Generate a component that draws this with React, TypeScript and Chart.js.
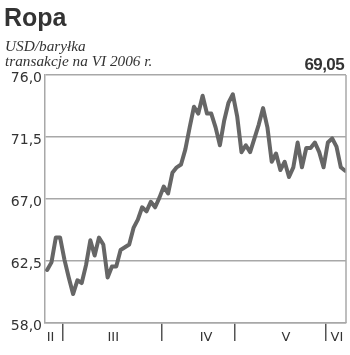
import React, { useEffect, useRef } from "react";
import { Chart, registerables } from "chart.js";

Chart.register(...registerables);

// Daily oil price, USD/barrel (June 2006 contract)
const prices: number[] = [
  61.85, 62.4, 64.2, 64.2, 62.6, 61.3, 60.1, 61.1, 60.9, 62.2, 64.0, 62.9, 64.2, 63.7, 61.3, 62.1, 62.1,
  63.3, 63.5, 63.7, 64.9, 65.5, 66.4, 66.1, 66.8, 66.4, 67.1, 67.9, 67.4, 68.9, 69.3, 69.5,
  70.6, 72.2, 73.7, 73.2, 74.5, 73.2, 73.2, 72.2, 70.9, 72.7, 74.0, 74.6, 73.0, 70.4, 70.9, 70.4,
  71.4, 72.4, 73.6, 72.2, 69.7, 70.3, 69.1, 69.7, 68.6, 69.3, 71.1, 69.3, 70.7, 70.7, 71.1, 70.4,
  69.3, 71.1, 71.4, 70.8, 69.3, 69.05,
];

// Month boundaries (in trading-day index units) and month labels
const monthBoundaries: number[] = [3.5, 26.5, 43.5, 64.5];
const monthLabels: string[] = ["II", "III", "IV", "V", "VI"];
const monthLabelAt: number[] = [0.8, 15.3, 36.8, 55.3, 67.1];

const yTicks: number[] = [58, 62.5, 67, 71.5, 76];

const title = "Ropa";
const unitLine = "USD/baryłka";
const contractLine = "transakcje na VI 2006 r.";
const lastValue = "69,05";

const GRID = "#a8a8a8";
const TEXT = "#333333";

export default function App() {
  const canvasRef = useRef<HTMLCanvasElement | null>(null);

  useEffect(() => {
    if (!canvasRef.current) return;

    const extras = {
      id: "extras",
      afterDraw(chart: any) {
        const { ctx, chartArea, scales } = chart;
        ctx.save();
        // right border of the frame
        ctx.strokeStyle = GRID;
        ctx.lineWidth = 1.5;
        ctx.beginPath();
        ctx.moveTo(chartArea.right, chartArea.top);
        ctx.lineTo(chartArea.right, chartArea.bottom);
        ctx.stroke();
        // month labels
        ctx.fillStyle = TEXT;
        ctx.font = '13px "DejaVu Sans"';
        ctx.textAlign = "center";
        ctx.textBaseline = "middle";
        monthLabels.forEach((lab, i) => {
          const x = scales.x.getPixelForValue(monthLabelAt[i]);
          ctx.fillText(lab, x, chartArea.bottom + 15);
        });
        ctx.restore();
      },
    };

    const chart = new Chart(canvasRef.current, {
      type: "line",
      data: {
        datasets: [
          {
            data: prices.map((v, i) => ({ x: i, y: v })),
            borderColor: "#666666",
            borderWidth: 4,
            pointRadius: 0,
            tension: 0,
            borderJoinStyle: "round",
            borderCapStyle: "round",
            fill: false,
          },
        ],
      },
      options: {
        animation: false,
        responsive: false,
        devicePixelRatio: 1,
        layout: { padding: { top: 75, right: 4, left: 0, bottom: 0 } },
        plugins: { legend: { display: false }, tooltip: { enabled: false }, title: { display: false } },
        scales: {
          x: {
            type: "linear",
            min: -0.5,
            max: 69.2,
            afterBuildTicks: (scale: any) => {
              scale.ticks = monthBoundaries.map((v) => ({ value: v }));
            },
            afterFit: (scale: any) => {
              scale.height = 32;
            },
            grid: {
              drawOnChartArea: false,
              drawTicks: true,
              tickLength: 18,
              color: "#555555",
              lineWidth: 1.5,
            },
            border: { display: true, color: GRID, width: 1.5 },
            ticks: { display: false },
          },
          y: {
            min: 58,
            max: 76,
            afterBuildTicks: (scale: any) => {
              scale.ticks = yTicks.map((v) => ({ value: v }));
            },
            afterFit: (scale: any) => {
              scale.width = 45;
            },
            grid: { color: GRID, lineWidth: 1.5, drawTicks: false },
            border: { display: true, color: GRID, width: 1.5 },
            ticks: {
              padding: 3,
              labelOffset: 3,
              color: TEXT,
              font: { family: "DejaVu Sans", size: 14 },
              callback: (v: any) => Number(v).toFixed(1).replace(".", ","),
            },
          },
        },
      },
      plugins: [extras],
    } as any);

    return () => chart.destroy();
  }, []);

  return (
    <div style={{ position: "absolute", left: 0, top: 0, width: 350, height: 355, background: "#fff" }}>
      <canvas ref={canvasRef} width={350} height={355} style={{ position: "absolute", left: 0, top: 0 }} />
      <div
        style={{
          position: "absolute",
          left: 4,
          top: 5,
          fontFamily: '"Liberation Sans", Arial, sans-serif',
          fontWeight: 700,
          fontSize: 25,
          lineHeight: "25px",
          color: TEXT,
          whiteSpace: "nowrap",
        }}
      >
        {title}
      </div>
      <div
        style={{
          position: "absolute",
          left: 5,
          top: 37.5,
          fontFamily: '"Liberation Serif", serif',
          fontStyle: "italic",
          fontSize: 15.3,
          lineHeight: "15px",
          color: TEXT,
          whiteSpace: "nowrap",
        }}
      >
        <div>{unitLine}</div>
        <div>{contractLine}</div>
      </div>
      <div
        style={{
          position: "absolute",
          right: 6,
          top: 56,
          fontFamily: '"Liberation Sans", Arial, sans-serif',
          fontWeight: 700,
          fontSize: 17,
          lineHeight: "17px",
          letterSpacing: -0.6,
          color: TEXT,
          whiteSpace: "nowrap",
        }}
      >
        {lastValue}
      </div>
    </div>
  );
}
